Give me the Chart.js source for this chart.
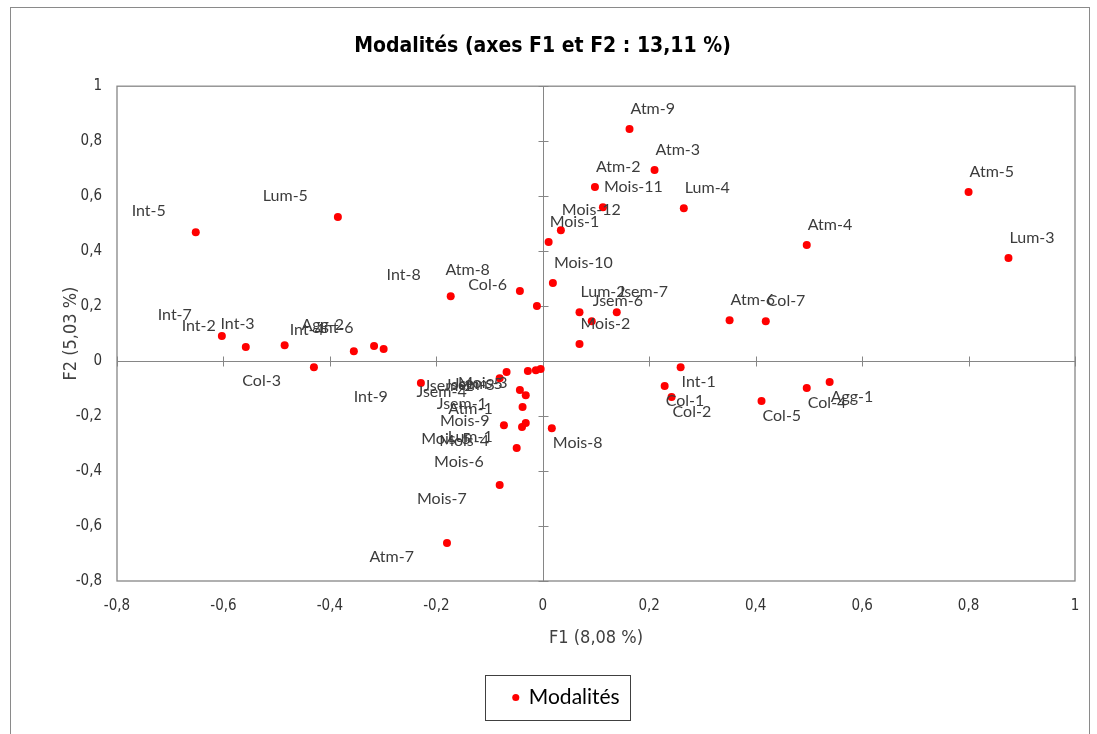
<!DOCTYPE html>
<html>
<head>
<meta charset="utf-8">
<script src="https://cdn.jsdelivr.net/npm/chart.js@4.4.1/dist/chart.umd.min.js"></script>
<style>
html,body{margin:0;padding:0;background:#fff;}
#wrap{position:relative;width:1097px;height:734px;}
</style>
</head>
<body>
<div id="wrap"><canvas id="c" width="1097" height="734"></canvas></div>
<script>
// ---- Data ----
const categories = [
  'Atm-1','Atm-2','Atm-3','Atm-4','Atm-5','Atm-6','Atm-7','Atm-8','Atm-9',
  'Col-1','Col-2','Col-3','Col-4','Col-5','Col-6','Col-7',
  'Int-1','Int-2','Int-3','Int-4','Int-5','Int-6','Int-7','Int-8','Int-9',
  'Lum-1','Lum-2','Lum-3','Lum-4','Lum-5',
  'Jsem-1','Jsem-2','Jsem-3','Jsem-4','Jsem-5','Jsem-6','Jsem-7',
  'Mois-1','Mois-2','Mois-3','Mois-4','Mois-5','Mois-6','Mois-7','Mois-8','Mois-9','Mois-10','Mois-11','Mois-12',
  'Agg-1','Agg-2'
];
const f1Values = [
  -0.032, 0.098, 0.210, 0.496, 0.800, 0.351, -0.180, -0.043, 0.163,
  0.229, 0.242, -0.430, 0.496, 0.411, -0.011, 0.419,
  0.259, -0.558, -0.485, -0.355, -0.652, -0.299, -0.603, -0.173, -0.229,
  -0.032, 0.069, 0.875, 0.265, -0.385,
  -0.043, -0.068, -0.028, -0.081, -0.013, 0.092, 0.139,
  0.011, 0.069, -0.004, -0.039, -0.073, -0.049, -0.081, 0.017, -0.038, 0.019, 0.113, 0.034,
  0.539, -0.317
];
const f2Values = [
  -0.124, 0.633, 0.695, 0.422, 0.615, 0.149, -0.662, 0.255, 0.844,
  -0.091, -0.131, -0.022, -0.098, -0.145, 0.200, 0.145,
  -0.022, 0.051, 0.058, 0.036, 0.469, 0.044, 0.091, 0.236, -0.080,
  -0.225, 0.178, 0.375, 0.556, 0.524,
  -0.105, -0.040, -0.036, -0.062, -0.033, 0.145, 0.178,
  0.433, 0.062, -0.029, -0.240, -0.233, -0.316, -0.451, -0.244, -0.167, 0.284, 0.560, 0.476,
  -0.076, 0.055
];
const xTickValues = [-0.8, -0.6, -0.4, -0.2, 0, 0.2, 0.4, 0.6, 0.8, 1];
const yTickValues = [-0.8, -0.6, -0.4, -0.2, 0, 0.2, 0.4, 0.6, 0.8, 1];
const seriesName = 'Modalités';
const chartTitle = 'Modalités (axes F1 et F2 : 13,11 %)';
const xTitle = 'F1 (8,08 %)';
const yTitle = 'F2 (5,03 %)';

// ---- Styles ----
const NARROW = "'Liberation Sans Narrow','DejaVu Sans Condensed','Arial Narrow',sans-serif";
const LABEL_FONT = "Lato, 'Open Sans', sans-serif";
const AXIS_GRAY = '#868686';
const LEGEND_SHIFT = 24;

function fmt(v) {
  const r = Math.round(v * 10) / 10;
  if (Math.abs(r) < 1e-9) return '0';
  if (Number.isInteger(r)) return String(r);
  return r.toFixed(1).replace('.', ',');
}

const points = categories.map((c, i) => ({x: f1Values[i], y: f2Values[i], label: c}));

const framePlugin = {
  id: 'frame',
  afterLayout(chart) {
    const lg = chart.legend;
    if (!lg) return;
    lg.left += LEGEND_SHIFT;
    lg.right += LEGEND_SHIFT;
    (lg.legendHitBoxes || []).forEach(h => { h.left += LEGEND_SHIFT; });
  },
  beforeDraw(chart) {
    const ctx = chart.ctx;
    ctx.save();
    ctx.strokeStyle = '#8a8a8a';
    ctx.lineWidth = 1;
    ctx.strokeRect(10.5, 7.5, 1079, 740);
    ctx.restore();
  },
  beforeDatasetsDraw(chart) {
    const {ctx, chartArea: a, scales: {x, y}} = chart;
    ctx.save();
    ctx.strokeStyle = AXIS_GRAY;
    ctx.lineWidth = 1.3;
    ctx.strokeRect(a.left, a.top, a.right - a.left, a.bottom - a.top);
    const x0 = Math.round(x.getPixelForValue(0)) + 0.5;
    const y0 = Math.round(y.getPixelForValue(0)) + 0.5;
    ctx.lineWidth = 1;
    ctx.beginPath();
    ctx.moveTo(x0, a.top); ctx.lineTo(x0, a.bottom);
    ctx.moveTo(a.left, y0); ctx.lineTo(a.right, y0);
    yTickValues.forEach(v => {
      const py = Math.round(y.getPixelForValue(v)) + 0.5;
      ctx.moveTo(x0 - 5, py); ctx.lineTo(x0 + 5, py);
    });
    xTickValues.forEach(v => {
      const px = Math.round(x.getPixelForValue(v)) + 0.5;
      ctx.moveTo(px, y0 - 5); ctx.lineTo(px, y0 + 5);
    });
    ctx.stroke();
    ctx.restore();
  },
  afterDatasetsDraw(chart) {
    const ctx = chart.ctx;
    const meta = chart.getDatasetMeta(0);
    ctx.save();
    ctx.font = '16px ' + LABEL_FONT;
    ctx.fillStyle = '#3c3c3c';
    ctx.textBaseline = 'middle';
    meta.data.forEach((el, i) => {
      const vx = f1Values[i], vy = f2Values[i];
      const px = el.x, py = el.y;
      if (vx >= 0) {
        ctx.textAlign = 'left';
        ctx.fillText(categories[i], px + 1, vy >= 0 ? py - 20 : py + 15);
      } else {
        ctx.textAlign = 'right';
        ctx.fillText(categories[i], vy >= 0 ? px - 30 : px - 33, vy >= 0 ? py - 21 : py + 14);
      }
    });
    ctx.restore();
  },
  afterDraw(chart) {
    const lg = chart.legend;
    if (!lg || !lg.legendHitBoxes || !lg.legendHitBoxes.length) return;
    const hb = lg.legendHitBoxes[0];
    const ctx = chart.ctx;
    ctx.save();
    ctx.strokeStyle = '#404040';
    ctx.lineWidth = 1;
    const l = Math.round(hb.left - 28) + 0.5;
    const t = Math.round(hb.top - 12) + 0.5;
    const r = Math.round(hb.left + hb.width + 10) + 0.5;
    const b = Math.round(hb.top + hb.height + 12) + 0.5;
    ctx.strokeRect(l, t, r - l, b - t);
    ctx.restore();
  }
};

new Chart(document.getElementById('c'), {
  type: 'scatter',
  data: {
    datasets: [{
      label: seriesName,
      data: points,
      backgroundColor: '#ff0000',
      borderColor: '#ff0000',
      borderWidth: 0,
      pointRadius: 4,
      pointHoverRadius: 4
    }]
  },
  options: {
    responsive: false,
    animation: false,
    events: [],
    layout: {padding: {left: 10, right: 22, top: 20, bottom: 16}},
    plugins: {
      title: {
        display: true,
        text: chartTitle,
        color: '#000',
        font: {family: NARROW, size: 21, weight: 'bold', lineHeight: 1.2},
        padding: {top: 14, bottom: 27}
      },
      legend: {
        position: 'bottom',
        labels: {
          usePointStyle: true,
          pointStyle: 'circle',
          boxWidth: 5,
          boxHeight: 5,
          color: '#000',
          font: {family: LABEL_FONT, size: 21},
          padding: 20
        }
      },
      tooltip: {enabled: false}
    },
    scales: {
      x: {
        type: 'linear',
        min: -0.8, max: 1,
        afterBuildTicks(s) { s.ticks = xTickValues.map(v => ({value: v})); },
        grid: {display: false, drawTicks: false},
        border: {display: false},
        ticks: {
          autoSkip: false, maxRotation: 0,
          padding: 16,
          color: '#333',
          font: {family: NARROW, size: 15},
          callback: v => fmt(v)
        },
        title: {
          display: true, text: xTitle, color: '#404040',
          font: {family: NARROW, size: 18},
          padding: {top: 4, bottom: 18}
        },
        afterFit(s) { s.height = 86; }
      },
      y: {
        type: 'linear',
        min: -0.8, max: 1,
        afterBuildTicks(s) { s.ticks = yTickValues.map(v => ({value: v})); },
        grid: {display: false, drawTicks: false},
        border: {display: false},
        ticks: {
          autoSkip: false,
          padding: 15,
          color: '#333',
          font: {family: NARROW, size: 15},
          callback: v => fmt(v)
        },
        title: {
          display: true, text: yTitle, color: '#404040',
          font: {family: NARROW, size: 18},
          padding: {top: 51, bottom: 0}
        },
        afterFit(s) { s.width = 107; }
      }
    }
  },
  plugins: [framePlugin]
});
</script>
</body>
</html>
